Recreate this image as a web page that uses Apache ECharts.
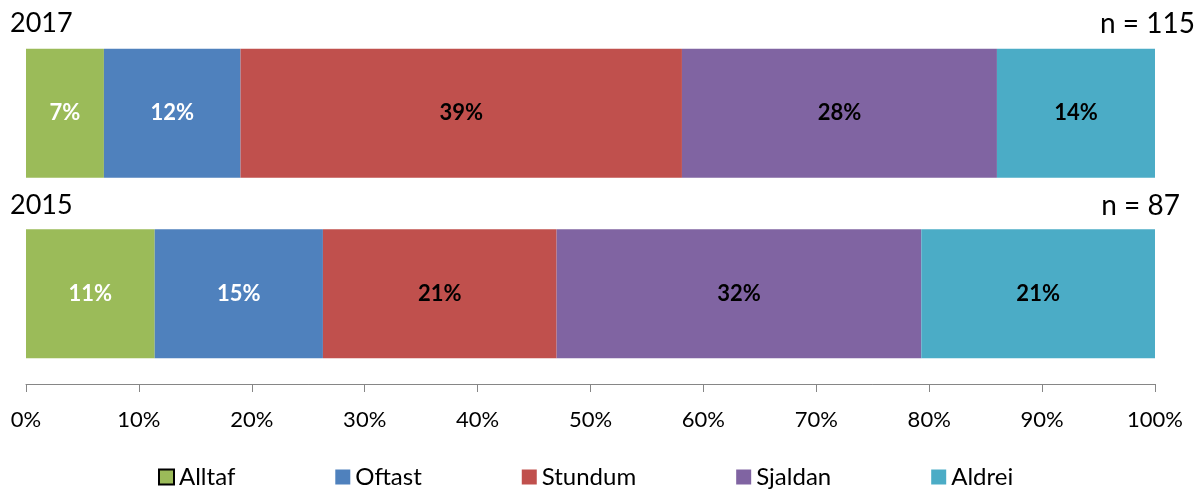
<!DOCTYPE html>
<html>
<head>
<meta charset="utf-8">
<script src="https://cdn.jsdelivr.net/npm/echarts@6/dist/echarts.min.js"></script>
<style>
  html, body { margin: 0; padding: 0; background: #fff; }
  #chart-container { width: 1204px; height: 490px; }
</style>
</head>
<body>
<div id="chart-container"></div>
<script>
var years = ["2017", "2015"];
var nText = ["n = 115", "n = 87"];
var nameData = ["Alltaf", "Oftast", "Stundum", "Sjaldan", "Aldrei"];
var colors = ["#9BBB59", "#4F81BD", "#C0504D", "#8064A2", "#4BACC6"];
var labelColors = ["#fff", "#fff", "#000", "#000", "#000"];
var alltaf = [6.9, 11.4];
var oftast = [12.1, 14.9];
var stundum = [39.1, 20.7];
var sjaldan = [27.9, 32.3];
var aldrei = [14.0, 20.7];
var xTicks = [0, 10, 20, 30, 40, 50, 60, 70, 80, 90, 100];

var font = "Lato, 'Open Sans', sans-serif";

var dom = document.getElementById("chart-container");
var myChart = echarts.init(dom, null, { renderer: "canvas" });

var allValues = [alltaf, oftast, stundum, sjaldan, aldrei];
var seriesData = nameData.map(function (name, i) {
  return {
    name: name,
    type: "bar",
    stack: "total",
    barWidth: 129,
    data: allValues[i],
    itemStyle: { color: colors[i] },
    label: {
      show: true,
      position: "inside",
      color: labelColors[i],
      fontFamily: font,
      fontWeight: "bold",
      fontSize: 22,
      formatter: function (p) { return Math.round(p.value) + "%"; }
    }
  };
});

var legendData = nameData.map(function (name, i) {
  var item = { name: name };
  if (i === 0) item.itemStyle = { borderColor: "#000", borderWidth: 2 };
  return item;
});

var option = {
  animation: false,
  grid: { left: 26, right: 49, top: 23, bottom: 106 },
  legend: {
    data: legendData,
    top: 460,
    left: 153,
    itemWidth: 15,
    itemHeight: 15,
    itemGap: 100,
    icon: "rect",
    textStyle: { fontFamily: font, fontSize: 24, color: "#000" }
  },
  xAxis: {
    type: "value",
    min: 0,
    max: 100,
    interval: 10,
    axisLine: { show: true, lineStyle: { color: "#868686" } },
    axisTick: { show: true, length: 8, lineStyle: { color: "#868686" } },
    splitLine: { show: false },
    axisLabel: {
      margin: 25,
      fontFamily: font,
      fontSize: 22,
      color: "#000",
      formatter: function (v) { return xTicks.indexOf(v) >= 0 ? v + "%" : ""; }
    }
  },
  yAxis: {
    type: "category",
    inverse: true,
    data: years,
    axisLine: { show: false },
    axisTick: { show: false },
    axisLabel: { show: false }
  },
  graphic: [
    { type: "text", left: 10, top: 10, style: { text: years[0], font: "27px " + font, fill: "#000" } },
    { type: "text", left: 10, top: 192, style: { text: years[1], font: "27px " + font, fill: "#000" } },
    { type: "text", right: 9, top: 10, style: { text: nText[0], font: "28px " + font, fill: "#000" } },
    { type: "text", right: 24, top: 192, style: { text: nText[1], font: "28px " + font, fill: "#000" } }
  ],
  series: seriesData
};

myChart.setOption(option);
window.addEventListener("resize", myChart.resize);
</script>
</body>
</html>
